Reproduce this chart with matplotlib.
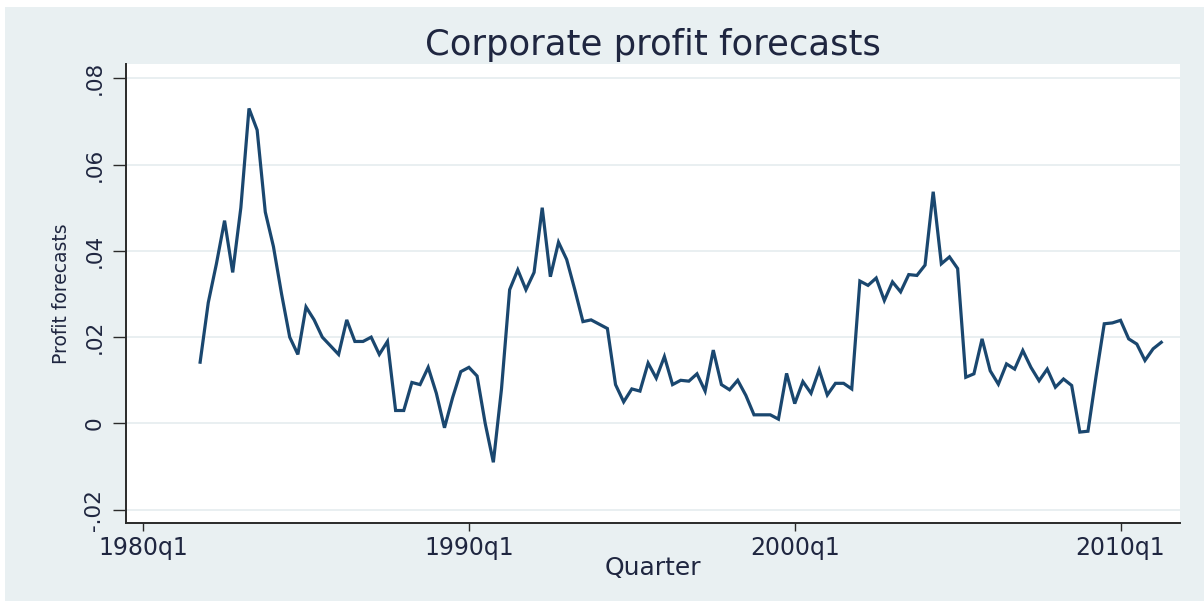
import numpy as np
import matplotlib
matplotlib.use("Agg")
import matplotlib.pyplot as plt
from matplotlib.patches import Rectangle

# ---- data ----
start_quarter = "1981q4"
profit = [
    0.0142, 0.028, 0.037, 0.047, 0.035, 0.050, 0.073, 0.068, 0.049, 0.041,   # 1981q4-1984q1
    0.030, 0.020, 0.016, 0.027, 0.024, 0.020, 0.018, 0.016, 0.024, 0.019,    # 1984q2-1986q3
    0.019, 0.020, 0.016, 0.019, 0.003, 0.003, 0.0095, 0.009, 0.013, 0.007,   # 1986q4-1989q1
    -0.001, 0.006, 0.012, 0.013, 0.011, 0.000, -0.009, 0.008, 0.031, 0.0356, # 1989q2-1991q3
    0.031, 0.035, 0.050, 0.034, 0.042, 0.038, 0.031, 0.0236, 0.024, 0.023,   # 1991q4-1994q1
    0.022, 0.009, 0.005, 0.008, 0.0075, 0.014, 0.0105, 0.0155, 0.009, 0.010, # 1994q2-1996q3
    0.0098, 0.0115, 0.0075, 0.017, 0.009, 0.0078, 0.010, 0.0065, 0.002, 0.002, # 1996q4-1999q1
    0.002, 0.001, 0.0116, 0.0046, 0.0097, 0.007, 0.0124, 0.0066, 0.0093, 0.0093, # 1999q2-2001q3
    0.008, 0.033, 0.032, 0.0337, 0.0285, 0.0328, 0.0305, 0.0345, 0.0343, 0.0367, # 2001q4-2004q1
    0.0537, 0.037, 0.0386, 0.0359, 0.0107, 0.0115, 0.0196, 0.0122, 0.0091, 0.0138, # 2004q2-2006q3
    0.0126, 0.0169, 0.013, 0.0099, 0.0126, 0.0084, 0.0103, 0.0088, -0.002, -0.0018, # 2006q4-2009q1
    0.011, 0.0231, 0.0233, 0.0239, 0.0196, 0.0184, 0.0146, 0.0173, 0.0188,   # 2009q2-2011q2
]
xtick_labels = ["1980q1", "1990q1", "2000q1", "2010q1"]
ytick_values = [-0.02, 0.0, 0.02, 0.04, 0.06, 0.08]
ytick_labels = ["-.02", "0", ".02", ".04", ".06", ".08"]
title = "Corporate profit forecasts"
xlabel = "Quarter"
ylabel = "Profit forecasts"


def qindex(label, base_year=1980):
    y, q = label.split("q")
    return (int(y) - base_year) * 4 + int(q) - 1


x = np.arange(len(profit)) + qindex(start_quarter)
xtick_pos = [qindex(l) for l in xtick_labels]

# ---- styling ----
bg = "#e9f0f2"
grid_c = "#e7eef0"
line_c = "#1a476f"
text_c = "#1f2640"

W, H = 1204, 601
fig = plt.figure(figsize=(W / 100, H / 100), dpi=100)
fig.patch.set_facecolor("white")
fig.patches.append(Rectangle((5 / W, 0), 1 - 5 / W, 1 - 7 / H, transform=fig.transFigure,
                             facecolor=bg, edgecolor="none", zorder=-10))

ax = fig.add_axes([126 / W, 1 - 522.7 / H, (1180 - 126) / W, (522.7 - 64) / H])
ax.set_facecolor("white")
ax.plot(x, profit, color=line_c, lw=2.3, solid_joinstyle="miter", zorder=3)

ax.set_xlim(-2.1, 127.3)
ax.set_ylim(-0.0230, 0.0833)

ax.set_xticks(xtick_pos)
ax.set_xticklabels(xtick_labels)
ax.set_yticks(ytick_values)
ax.set_yticklabels(ytick_labels, rotation=90, va="center")

for s in ["top", "right"]:
    ax.spines[s].set_visible(False)
for s in ["left", "bottom"]:
    ax.spines[s].set_color("#2a2a2a")
    ax.spines[s].set_linewidth(1.4)

ax.tick_params(axis="x", length=5.5, width=1.0, color="#2a2a2a", pad=4,
               labelsize=17, labelcolor=text_c)
ax.tick_params(axis="y", length=9.5, width=1.0, color="#2a2a2a", pad=6,
               labelsize=15.5, labelcolor=text_c)
ax.yaxis.grid(True, color=grid_c, lw=1.3)
ax.set_axisbelow(True)

ax.set_xlabel(xlabel, fontsize=18, color=text_c, labelpad=-3)
ax.set_ylabel(ylabel, fontsize=13.5, color=text_c, labelpad=10)

fig.text(653 / W, 1 - 55 / H, title, ha="center", va="baseline", fontsize=25.5, color=text_c)

fig.savefig("out.png", dpi=100, facecolor=fig.get_facecolor())
